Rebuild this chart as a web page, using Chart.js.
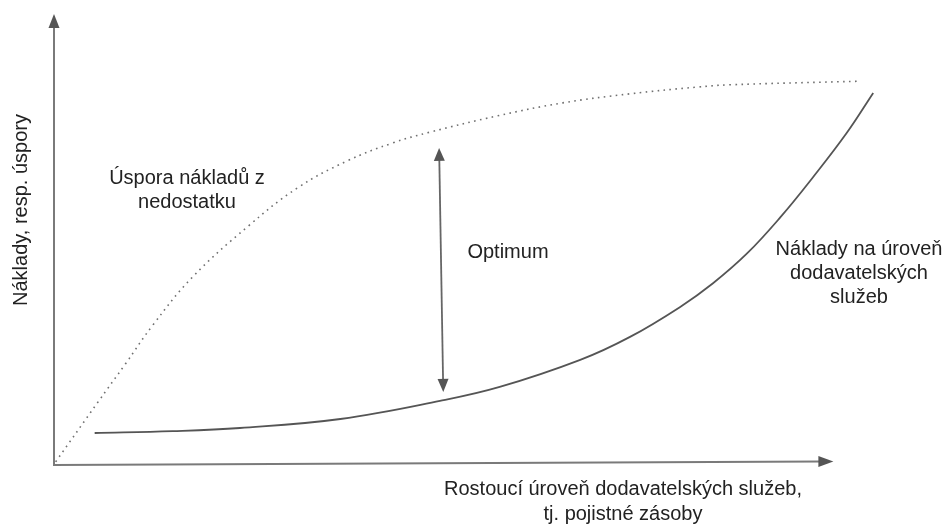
<!DOCTYPE html>
<html>
<head>
<meta charset="utf-8">
<script src="https://cdn.jsdelivr.net/npm/chart.js@4/dist/chart.umd.min.js"></script>
<style>
  html, body { margin: 0; padding: 0; background: #fff; }
  canvas { display: block; }
</style>
</head>
<body>
<canvas id="chart" width="949" height="526"></canvas>
<script>
"use strict";

// Úspora nákladů z nedostatku (tečkovaná křivka)
const savingsX = [0.2, 5.2, 8.6, 11.9, 16.7, 23.3, 29.3, 35.3, 40.8, 45.3, 53.4, 61.3, 69.4, 77.5, 81.4, 97.1];
const savingsY = [0.7, 13.7, 22.4, 31.0, 41.7, 52.8, 61.4, 67.4, 71.4, 73.8, 77.4, 80.3, 82.3, 83.8, 84.3, 85.1];

// Náklady na úroveň dodavatelských služeb (plná křivka)
const costX = [4.9, 14.3, 22.4, 34.5, 46.5, 53.7, 63.4, 69.4, 75.4, 79.4, 83.5, 87.5, 91.4, 95.5, 98.7];
const costY = [7.1, 7.5, 8.2, 10.2, 14.2, 17.3, 23.3, 28.4, 35.0, 40.3, 46.9, 54.9, 63.7, 73.6, 82.5];

// popisky
const savingsLabel = ["Úspora nákladů z", "nedostatku"];
const costLabel = ["Náklady na úroveň", "dodavatelských", "služeb"];
const optimumLabel = ["Optimum"];
const xTitle = ["Rostoucí úroveň dodavatelských služeb,", "tj. pojistné zásoby"];
const yTitle = "Náklady, resp. úspory";

// šipka optima (horní a dolní hrot)
const optimumTop = { x: 46.4, y: 70.3 };
const optimumBottom = { x: 46.9, y: 16.2 };

const toPoints = (xs, ys) => xs.map((x, i) => ({ x: x, y: ys[i] }));

/**
 * Nakreslí trojúhelníkový hrot šipky.
 */
function arrowHead(ctx, tx, ty, angle, len, half, color) {
    ctx.save();
    ctx.translate(tx, ty);
    ctx.rotate(angle);
    ctx.fillStyle = color;
    ctx.beginPath();
    ctx.moveTo(0, 0);
    ctx.lineTo(-len, -half);
    ctx.lineTo(-len, half);
    ctx.closePath();
    ctx.fill();
    ctx.restore();
}

function lines(ctx, texts, cx, cy, lh) {
    const start = cy - (texts.length - 1) * lh / 2;
    texts.forEach((t, i) => ctx.fillText(t, cx, start + i * lh));
}

const diagram = {
    id: "diagram",
    afterDatasetsDraw(chart) {
        const ctx = chart.ctx;
        const xs = chart.scales.x;
        const ys = chart.scales.y;
        const px = v => xs.getPixelForValue(v);
        const py = v => ys.getPixelForValue(v);

        ctx.save();
        // osy
        ctx.strokeStyle = "#7a7a7a";
        ctx.lineWidth = 2;
        ctx.beginPath();
        ctx.moveTo(px(0), py(100) + 10);
        ctx.lineTo(px(0), py(0));
        ctx.lineTo(px(93.9) - 12, py(0.8));
        ctx.stroke();
        arrowHead(ctx, px(0), py(100), -Math.PI / 2, 14, 5.5, "#555");
        const ang = Math.atan2(py(0.8) - py(0), px(93.9) - px(0));
        arrowHead(ctx, px(93.9), py(0.8), ang, 15, 5.5, "#555");

        // šipka optima
        const t = { x: px(optimumTop.x), y: py(optimumTop.y) };
        const b = { x: px(optimumBottom.x), y: py(optimumBottom.y) };
        const a = Math.atan2(b.y - t.y, b.x - t.x);
        ctx.strokeStyle = "#666";
        ctx.lineWidth = 1.8;
        ctx.beginPath();
        ctx.moveTo(t.x + Math.cos(a) * 10, t.y + Math.sin(a) * 10);
        ctx.lineTo(b.x - Math.cos(a) * 10, b.y - Math.sin(a) * 10);
        ctx.stroke();
        arrowHead(ctx, b.x, b.y, a, 13, 5.5, "#555");
        arrowHead(ctx, t.x, t.y, a + Math.PI, 13, 5.5, "#555");

        // texty
        ctx.fillStyle = "#222";
        ctx.font = "20px 'Liberation Sans', Arial, sans-serif";
        ctx.textAlign = "center";
        ctx.textBaseline = "middle";
        lines(ctx, savingsLabel, 187, 190, 24);
        lines(ctx, optimumLabel, 508, 252, 24);
        lines(ctx, costLabel, 859, 273, 24);
        lines(ctx, xTitle, 623, 502, 25);

        ctx.translate(21, 210);
        ctx.rotate(-Math.PI / 2);
        ctx.fillText(yTitle, 0, 0);
        ctx.restore();
    }
};

new Chart(document.getElementById("chart"), {
    type: "line",
    data: {
        datasets: [
            {
                label: "Úspora nákladů z nedostatku",
                data: toPoints(savingsX, savingsY),
                borderColor: "#707070",
                borderWidth: 1.6,
                borderDash: [1.6, 4.4],
                pointRadius: 0,
                tension: 0.4,
                fill: false
            },
            {
                label: "Náklady na úroveň dodavatelských služeb",
                data: toPoints(costX, costY),
                borderColor: "#555",
                borderWidth: 1.8,
                pointRadius: 0,
                tension: 0.4,
                fill: false
            }
        ]
    },
    options: {
        responsive: false,
        animation: false,
        events: [],
        clip: false,
        layout: {
            padding: { left: 54, right: 65, top: 14, bottom: 61 }
        },
        scales: {
            x: { type: "linear", min: 0, max: 100, display: false },
            y: { type: "linear", min: 0, max: 100, display: false }
        },
        plugins: {
            legend: { display: false },
            tooltip: { enabled: false }
        }
    },
    plugins: [diagram]
});
</script>
</body>
</html>
